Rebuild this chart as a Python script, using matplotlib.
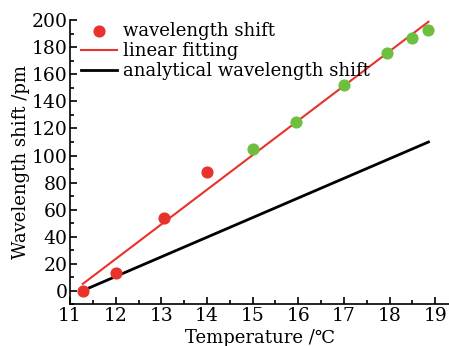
import matplotlib
matplotlib.use('Agg')
import numpy as np
import matplotlib.pyplot as plt
from matplotlib.ticker import MultipleLocator

# measured wavelength shift (pm) vs temperature
temp_red = [11.28, 12.0, 13.05, 14.0]
shift_red = [0, 13, 54, 88]
temp_green = [15.0, 15.95, 16.99, 17.95, 18.5, 18.85]
shift_green = [105, 125, 152, 176, 187, 193]

# linear fitting and analytical shift, end points
fit_x = [11.28, 18.85]
fit_y = [5, 199]
ana_x = [11.28, 18.85]
ana_y = [0, 110]

red = '#e8322b'
green = '#6cbf3f'

plt.rcParams['font.family'] = ['DejaVu Serif', 'DejaVu Sans']
plt.rcParams['font.size'] = 13.5

fig = plt.figure(figsize=(4.49, 3.46), dpi=100)
ax = fig.add_axes([0.156, 0.121, 0.846, 0.82])

ax.scatter(temp_red, shift_red, s=60, color=red, zorder=3,
           label='wavelength shift')
ax.scatter(temp_green, shift_green, s=60, color=green, zorder=3)
ax.plot(fit_x, fit_y, color=red, lw=1.5, label='linear fitting')
ax.plot(ana_x, ana_y, color='black', lw=2.0,
        label='analytical wavelength shift')

ax.set_xlim(11, 19.32)
ax.set_ylim(-10, 200)
ax.xaxis.set_major_locator(MultipleLocator(1))
ax.xaxis.set_minor_locator(MultipleLocator(0.5))
ax.yaxis.set_major_locator(MultipleLocator(20))
ax.yaxis.set_minor_locator(MultipleLocator(10))
ax.tick_params(which='both', direction='in', width=1.2)
ax.tick_params(which='major', length=5, pad=2)
ax.tick_params(which='minor', length=3)

for side in ['top', 'right']:
    ax.spines[side].set_visible(False)
for side in ['left', 'bottom']:
    ax.spines[side].set_linewidth(1.2)

ax.set_xlabel('Temperature /℃', fontsize=13, labelpad=3)
ax.set_ylabel('Wavelength shift /pm', fontsize=13, labelpad=1)

ax.legend(loc='upper left', bbox_to_anchor=(0.01, 1.02), frameon=False,
          handlelength=2.0, handletextpad=0.3, labelspacing=0.12,
          borderaxespad=0, fontsize=13)

fig.savefig('out.png', dpi=100)
